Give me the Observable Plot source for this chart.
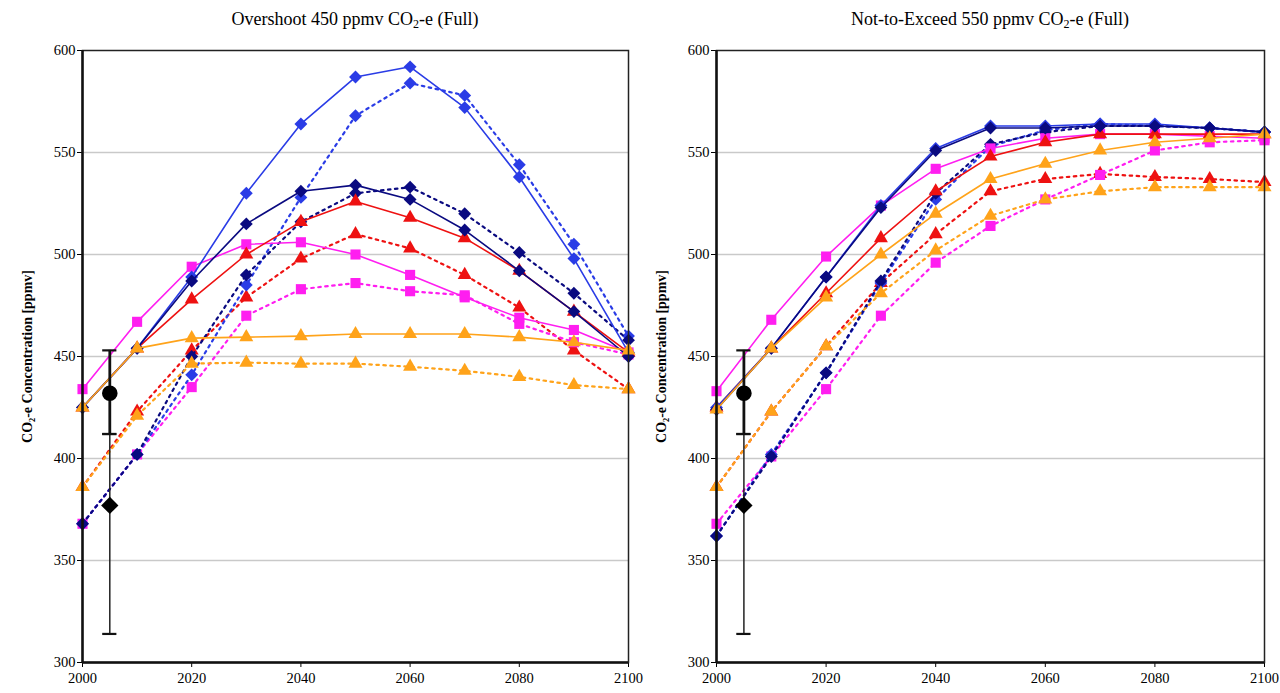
<!DOCTYPE html>
<html><head><meta charset="utf-8">
<script src="https://cdn.jsdelivr.net/npm/d3@7"></script>
<script src="https://cdn.jsdelivr.net/npm/@observablehq/plot@0.6"></script>
<style>
body{margin:0;background:#fff;font-family:"Liberation Serif",serif;}
#wrap{display:flex;width:1280px;height:693px;overflow:hidden;}
.col{width:640px;position:relative;}
.title{height:40px;box-sizing:border-box;text-align:center;font-size:18px;line-height:38px;color:#000;white-space:nowrap;}
.title sub{font-size:12px;vertical-align:-3px;line-height:0;}
svg{display:block;}
</style></head><body><div id="wrap"></div><script>
// ---------- data ----------
const years = [2000, 2010, 2020, 2030, 2040, 2050, 2060, 2070, 2080, 2090, 2100];
const xTicks = [2000, 2020, 2040, 2060, 2080, 2100];
const yTicks = [300, 350, 400, 450, 500, 550, 600];
const yLabel = "CO₂-e Concentration [ppmv]";
const titles = ["Overshoot 450 ppmv CO<sub>2</sub>-e (Full)", "Not-to-Exceed 550 ppmv CO<sub>2</sub>-e (Full)"];

// series ids: model colour + solid/dotted (drawing order)
const seriesIds = ["redDot","magDot","blueDot","navyDot","orangeDot","magSolid","redSolid","blueSolid","navySolid","orangeSolid"];

// Overshoot 450 panel
const os_blueSolid   = [425, 454, 489, 530, 564, 587, 592, 572, 538, 498, 452];
const os_blueDot     = [368, 402, 441, 485, 528, 568, 584, 578, 544, 505, 460];
const os_navySolid   = [425, 454, 487, 515, 531, 534, 527, 512, 492, 472, 450];
const os_navyDot     = [368, 402, 450, 490, 516, 530, 533, 520, 501, 481, 458];
const os_redSolid    = [425, 454, 478, 500, 516, 526, 518, 508, 492, 472, 452];
const os_redDot      = [386, 423, 453, 479, 498, 510, 503, 490, 474, 453, 434];
const os_magSolid    = [434, 467, 494, 505, 506, 500, 490, 479, 469, 463, 452];
const os_magDot      = [368, 402, 435, 470, 483, 486, 482, 480, 466, 457, 451];
const os_orangeSolid = [425, 454, 459, 459.5, 460, 461, 461, 461, 459.5, 457, 453];
const os_orangeDot   = [386, 421, 446.5, 447, 446.5, 446.5, 445, 443, 440, 436, 434];

// Not-to-exceed 550 panel
const ne_blueSolid   = [425, 454, 489, 524, 552, 563, 563, 564, 564, 562, 560];
const ne_blueDot     = [362, 402, 442, 486, 527, 553, 561, 564, 563, 562, 560];
const ne_navySolid   = [424, 454, 489, 523, 551, 562, 562, 563, 563, 562, 560];
const ne_navyDot     = [362, 401, 442, 487, 530, 554, 560, 563, 563, 562, 560];
const ne_redSolid    = [425, 454, 481, 508, 531, 548, 555, 559, 559, 559, 559];
const ne_redDot      = [386, 423, 455, 486, 510, 531, 537, 539.5, 538, 537, 535.5];
const ne_magSolid    = [433, 468, 499, 524, 542, 552, 557, 559, 559, 558, 557];
const ne_magDot      = [368, 401, 434, 470, 496, 514, 527, 539, 551, 555, 556];
const ne_orangeSolid = [424, 454, 479, 500, 520, 537, 544.5, 551, 555, 557, 559];
const ne_orangeDot   = [386, 423, 455, 481, 502, 519, 527, 531, 533, 533, 533];

// observations at 2005 (black markers with error bars)
const obsYear = 2005;
const obsKinds = ["circle", "diamond2"];
const obsValue = [432, 377];
const obsLow = [412, 314];
const obsHigh = [453, 412];

// ---------- styles ----------
const styleOf = {
  blue:   {color: "#2a3ce6", symbol: "diamond2", r: 5.8},
  navy:   {color: "#0a0a80", symbol: "diamond2", r: 5.8},
  red:    {color: "#ee1111", symbol: "triangle", r: 5.2},
  mag:    {color: "#ff1ef0", symbol: "square",   r: 5.7},
  orange: {color: "#ffa31a", symbol: "triangle", r: 5.2}
};

const panelValues = [
  {blueSolid: os_blueSolid, blueDot: os_blueDot, navySolid: os_navySolid, navyDot: os_navyDot, redSolid: os_redSolid, redDot: os_redDot, magSolid: os_magSolid, magDot: os_magDot, orangeSolid: os_orangeSolid, orangeDot: os_orangeDot},
  {blueSolid: ne_blueSolid, blueDot: ne_blueDot, navySolid: ne_navySolid, navyDot: ne_navyDot, redSolid: ne_redSolid, redDot: ne_redDot, magSolid: ne_magSolid, magDot: ne_magDot, orangeSolid: ne_orangeSolid, orangeDot: ne_orangeDot}
];
const margins = [{left: 82, right: 12}, {left: 76, right: 16}];

const obs = obsKinds.map((k, i) => ({kind: k, year: obsYear, v: obsValue[i], lo: obsLow[i], hi: obsHigh[i]}));

function panel(p) {
  const vals = panelValues[p];
  const marks = [
    Plot.ruleY(yTicks.slice(1, -1), {stroke: "#c9c9c9", strokeWidth: 1.5})
  ];
  for (const id of seriesIds) {
    const model = id.replace(/Solid|Dot/, "");
    const dotted = id.endsWith("Dot");
    const st = styleOf[model];
    const rows = years.map((y, i) => ({year: y, v: vals[id][i]}));
    marks.push(Plot.line(rows, {x: "year", y: "v", stroke: st.color, strokeWidth: dotted ? 2.2 : 1.6,
      strokeDasharray: dotted ? "2.5,4.5" : null}));
    marks.push(Plot.dot(rows, {x: "year", y: "v", fill: st.color, symbol: st.symbol, r: st.r, stroke: "none"}));
  }
  // error bars
  marks.push(Plot.ruleX(obs.slice(1), {x: "year", y1: "lo", y2: "hi", stroke: "#222", strokeWidth: 1.5}));
  marks.push(Plot.ruleX(obs.slice(0, 1), {x: "year", y1: "lo", y2: "hi", stroke: "#111", strokeWidth: 2.8}));
  marks.push(Plot.ruleY(obs, {y: "lo", x1: d => d.year - 1.3, x2: d => d.year + 1.3, stroke: "#111", strokeWidth: 2.2}));
  marks.push(Plot.ruleY(obs, {y: "hi", x1: d => d.year - 1.3, x2: d => d.year + 1.3, stroke: "#111", strokeWidth: 2.2}));
  marks.push(Plot.dot(obs, {x: "year", y: "v", symbol: "kind", fill: "#000", r: 7.8, stroke: "none"}));
  // frame and thick axes
  marks.push(Plot.frame({stroke: "#222", strokeWidth: 1.5}));
  marks.push(Plot.ruleX([years[0]], {stroke: "#111", strokeWidth: 2.5}));
  marks.push(Plot.ruleY([yTicks[0]], {stroke: "#111", strokeWidth: 2.5}));

  const chart = Plot.plot({
    width: 640, height: 653,
    marginLeft: margins[p].left, marginRight: margins[p].right, marginTop: 10, marginBottom: 31,
    style: {fontFamily: "'Liberation Serif', serif", fontSize: "14.5px", background: "transparent", color: "#000", overflow: "visible"},
    symbol: {type: "identity"},
    x: {domain: [2000, 2100], ticks: xTicks, tickFormat: d => String(d), label: null, tickSize: 5, tickPadding: 5},
    y: {domain: [300, 600], ticks: yTicks, tickFormat: d => String(d), label: yLabel, labelAnchor: "center", labelArrow: "none", labelOffset: 60, tickSize: 5, tickPadding: 2},
    marks
  });
  d3.select(chart).selectAll('g[aria-label="y-axis label"] text').style("font-weight", "bold").style("font-size", "14px");
  return chart;
}

const wrap = document.getElementById("wrap");
for (let p = 0; p < 2; p++) {
  const col = document.createElement("div");
  col.className = "col";
  col.style.zIndex = String(2 - p);
  const t = document.createElement("div");
  t.className = "title";
  t.style.paddingLeft = margins[p].left + "px";
  t.style.paddingRight = margins[p].right + "px";
  t.innerHTML = titles[p];
  col.appendChild(t);
  col.appendChild(panel(p));
  wrap.appendChild(col);
}
</script></body></html>
